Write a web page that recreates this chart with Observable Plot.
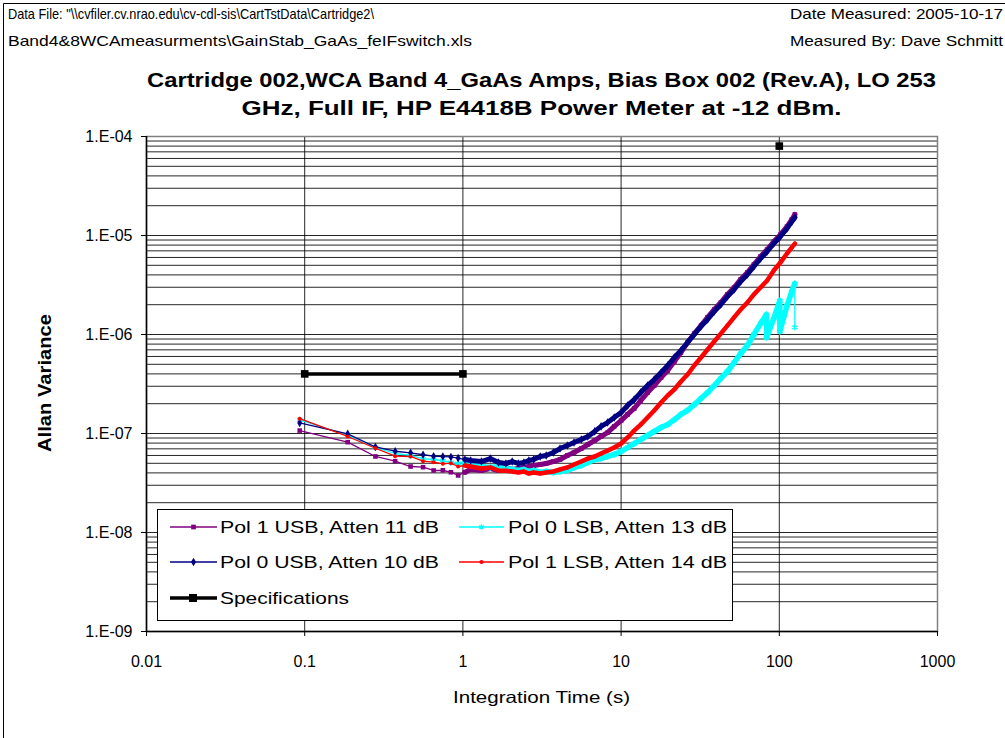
<!DOCTYPE html>
<html><head><meta charset="utf-8">
<script src="https://cdn.jsdelivr.net/npm/d3@7"></script>
<script src="https://cdn.jsdelivr.net/npm/@observablehq/plot@0.6"></script>
<style>
html,body{margin:0;padding:0;background:#fff;}
#wrap{position:relative;width:1005px;height:738px;overflow:hidden;font-family:"Liberation Sans",Arial,sans-serif;color:#000;background:#fff;}
#wrap svg{position:absolute;left:0;top:0;}
</style></head><body><div id="wrap"></div>
<script>
// ---------- data ----------
const times = [0.093,0.187,0.28,0.373,0.467,0.56,0.653,0.747,0.84,0.933,1.03,1.12,1.31,1.49,1.68,1.87,2.05,2.24,2.43,2.61,2.80,3.08,3.36,3.73,4.11,4.57,5.04,5.6,6.16,6.81,7.47,8.21,9.05,10.0,11.0,12.1,13.3,14.7,16.2,17.9,19.7,21.7,23.9,26.3,29.0,32.0,35.2,38.8,42.7,47.0,51.8,57.0,62.8,69.1,76.1,83.8,92.3,101.6,111.9,120,125.4];
const pol1USB = [1.07e-7,8.17e-8,5.86e-8,5.25e-8,4.64e-8,4.57e-8,4.23e-8,4.25e-8,4.06e-8,3.77e-8,4.06e-8,4.33e-8,4.23e-8,4.43e-8,4.23e-8,4.54e-8,4.33e-8,4.43e-8,4.54e-8,4.64e-8,4.75e-8,4.86e-8,4.98e-8,5.21e-8,5.46e-8,6.0e-8,6.43e-8,7.05e-8,7.74e-8,8.49e-8,9.33e-8,1.02e-7,1.18e-7,1.35e-7,1.56e-7,1.79e-7,2.15e-7,2.59e-7,3.05e-7,3.68e-7,4.33e-7,5.33e-7,6.58e-7,8.30e-7,1.02e-6,1.23e-6,1.49e-6,1.79e-6,2.10e-6,2.54e-6,2.98e-6,3.60e-6,4.23e-6,5.09e-6,6.14e-6,7.22e-6,8.69e-6,1.02e-5,1.23e-5,1.45e-5,1.63e-5];
const pol0USB = [1.28e-7,9.93e-8,7.31e-8,6.62e-8,6.38e-8,6.10e-8,5.90e-8,5.85e-8,5.80e-8,5.64e-8,5.46e-8,5.33e-8,5.21e-8,5.58e-8,5.09e-8,4.98e-8,5.21e-8,4.98e-8,5.09e-8,5.33e-8,5.46e-8,5.86e-8,6.0e-8,6.43e-8,7.05e-8,7.57e-8,8.11e-8,8.69e-8,9.33e-8,1.05e-7,1.18e-7,1.29e-7,1.45e-7,1.63e-7,1.92e-7,2.20e-7,2.59e-7,3.05e-7,3.51e-7,4.13e-7,4.86e-7,5.86e-7,6.89e-7,8.30e-7,1.0e-6,1.21e-6,1.42e-6,1.71e-6,2.01e-6,2.42e-6,2.85e-6,3.43e-6,4.04e-6,4.86e-6,5.86e-6,6.89e-6,8.30e-6,9.77e-6,1.18e-5,1.38e-5,1.52e-5];
const pol1LSB = [1.41e-7,9.33e-8,7.10e-8,5.90e-8,5.86e-8,5.25e-8,5.13e-8,4.94e-8,5.01e-8,4.64e-8,4.75e-8,4.64e-8,4.43e-8,4.54e-8,4.23e-8,4.20e-8,4.13e-8,4.04e-8,4.13e-8,3.94e-8,4.04e-8,3.94e-8,4.04e-8,4.13e-8,4.33e-8,4.54e-8,4.86e-8,5.21e-8,5.58e-8,5.86e-8,6.28e-8,6.72e-8,7.22e-8,7.93e-8,9.12e-8,1.07e-7,1.23e-7,1.45e-7,1.71e-7,2.06e-7,2.42e-7,2.78e-7,3.35e-7,3.94e-7,4.86e-7,5.86e-7,7.05e-7,8.49e-7,1.02e-6,1.23e-6,1.49e-6,1.79e-6,2.10e-6,2.54e-6,2.98e-6,3.51e-6,4.43e-6,5.33e-6,6.58e-6,7.57e-6,8.30e-6];
const cyanTimes = [0.093,0.187,0.28,0.373,0.467,0.56,0.653,0.747,0.84,0.933,1.03,1.12,1.31,1.49,1.68,1.87,2.05,2.24,2.43,2.61,2.80,3.08,3.36,3.73,4.11,4.57,5.04,5.6,6.16,6.81,7.47,8.21,9.05,10.0,11.0,12.1,13.3,14.7,16.2,17.9,19.7,21.7,23.9,26.3,29.0,32.0,35.2,38.8,42.7,47.0,51.8,57.0,62.8,69.1,76.1,83.0,83.1,92.3,100.7,100.8,111.9,120,125.3,125.4];
const pol0LSB = [1.37e-7,9.62e-8,7.22e-8,6.28e-8,6.0e-8,5.55e-8,5.46e-8,5.33e-8,5.09e-8,4.98e-8,5.09e-8,4.86e-8,4.64e-8,4.54e-8,4.64e-8,4.43e-8,4.33e-8,4.23e-8,4.33e-8,4.13e-8,4.23e-8,4.04e-8,4.13e-8,4.04e-8,4.13e-8,4.23e-8,4.54e-8,4.75e-8,5.09e-8,5.46e-8,5.58e-8,5.86e-8,6.14e-8,6.58e-8,7.22e-8,7.93e-8,8.69e-8,9.55e-8,1.05e-7,1.15e-7,1.23e-7,1.38e-7,1.56e-7,1.71e-7,1.96e-7,2.26e-7,2.59e-7,3.05e-7,3.60e-7,4.23e-7,5.21e-7,6.43e-7,7.74e-7,1.0e-6,1.29e-6,1.59e-6,9.33e-7,1.45e-6,2.20e-6,1.07e-6,1.96e-6,2.72e-6,3.27e-6,1.18e-6];
const specTimes = [0.1, 1];
const specValues = [4e-7, 4e-7];
const specPointTimes = [100];
const specPointValues = [8e-5];
const xTicks = [0.01, 0.1, 1, 10, 100, 1000];
const xTickLabels = ["0.01", "0.1", "1", "10", "100", "1000"];
const yTicks = [1e-9, 1e-8, 1e-7, 1e-6, 1e-5, 1e-4];
const yTickLabels = ["1.E-09", "1.E-08", "1.E-07", "1.E-06", "1.E-05", "1.E-04"];
const seriesNames = ["Pol 1 USB, Atten 11 dB", "Pol 0 LSB, Atten 13 dB", "Pol 0 USB, Atten 10 dB", "Pol 1 LSB, Atten 14 dB"];
const specName = "Specifications";
const headerLeft = ["Data File: \"\\\\cvfiler.cv.nrao.edu\\cv-cdl-sis\\CartTstData\\Cartridge2\\", "Band4&8WCAmeasurments\\GainStab_GaAs_feIFswitch.xls"];
const headerRight = ["Date Measured: 2005-10-17", "Measured By: Dave Schmitt"];
const titleLines = ["Cartridge 002,WCA Band 4_GaAs Amps, Bias Box 002 (Rev.A), LO 253", "GHz, Full IF, HP E4418B Power Meter at -12 dBm."];
const xLabel = "Integration Time (s)";
const yLabel = "Allan Variance";

// ---------- styles ----------
const styles = [
  {name: seriesNames[0], t: times, v: pol1USB, color: "#800080", symbol: "square", r: 2.6, band: 5},
  {name: seriesNames[1], t: cyanTimes, v: pol0LSB, color: "#00FFFF", symbol: "asterisk", r: 3, band: 5.5},
  {name: seriesNames[2], t: times, v: pol0USB, color: "#000080", symbol: "diamond", r: 2.6, band: 5},
  {name: seriesNames[3], t: times, v: pol1LSB, color: "#FF0000", symbol: "circle", r: 2, band: 4.5}
];

const yGrid = [];
yTicks.forEach(d => { for (let k = 1; k <= 9; k++) { const g = d * k; if (g <= 1e-4 * 1.0001) yGrid.push(g); } });

const marks = [
  Plot.ruleY(yGrid, {stroke: "#000", strokeWidth: 1, strokeOpacity: 0.85}),
  Plot.ruleX(xTicks, {stroke: "#000", strokeWidth: 1, strokeOpacity: 0.85}),
  Plot.frame({stroke: "#808080", strokeWidth: 1.5}),
  Plot.ruleX([xTicks[0]], {stroke: "#000", strokeWidth: 1.5}),
  Plot.ruleY([yTicks[0]], {stroke: "#000", strokeWidth: 1.5}),
  Plot.axisY(yTicks, {anchor: "left", tickSize: 5, tickPadding: 9, fontSize: 16, tickFormat: d => yTickLabels[yTicks.indexOf(d)], label: null}),
  Plot.axisX(xTicks, {anchor: "bottom", tickSize: 5, tickPadding: 19, fontSize: 16, tickFormat: d => xTickLabels[xTicks.indexOf(d)], label: null})
];

styles.forEach(s => {
  const rows = s.t.map((t, i) => ({t, v: s.v[i]}));
  const last = s.t[s.t.length - 1];
  const bandRows = rows.filter(d => d.t >= 1 && (s.symbol !== "asterisk" || d.t < last));
  marks.push(Plot.line(rows, {x: "t", y: "v", stroke: s.color, strokeWidth: 1.3}));
  marks.push(Plot.line(bandRows, {x: "t", y: "v", stroke: s.color, strokeWidth: s.band, strokeLinejoin: "round"}));
  if (s.symbol === "asterisk")
    marks.push(Plot.dot(rows, {x: "t", y: "v", symbol: "asterisk", stroke: s.color, strokeWidth: 1.3, r: s.r}));
  else
    marks.push(Plot.dot(rows, {x: "t", y: "v", symbol: s.symbol, fill: s.color, stroke: "none", r: s.r}));
});

const specRows = specTimes.map((t, i) => ({t, v: specValues[i]}));
const specPt = specPointTimes.map((t, i) => ({t, v: specPointValues[i]}));
marks.push(Plot.line(specRows, {x: "t", y: "v", stroke: "#000", strokeWidth: 3.5}));
marks.push(Plot.dot(specRows.concat(specPt), {x: "t", y: "v", symbol: "square", fill: "#000", r: 4.3}));

const chart = Plot.plot({
  width: 1005, height: 738,
  marginLeft: 146, marginRight: 68, marginTop: 136, marginBottom: 107,
  style: {fontFamily: "'Liberation Sans', Arial, sans-serif", color: "#000", background: "transparent", overflow: "visible"},
  x: {type: "log", domain: [0.01, 1000]},
  y: {type: "log", domain: [1e-9, 1e-4]},
  marks
});
const wrap = document.getElementById("wrap");
wrap.appendChild(chart);

// ---------- overlay: border, header, title, axis labels, legend ----------
const ov = d3.select(wrap).append("svg").attr("width", 1005).attr("height", 738)
  .style("font-family", "'Liberation Sans', Arial, sans-serif").style("pointer-events", "none");

ov.append("path").attr("d", "M3.5,745V3.5H1010").attr("fill", "none").attr("stroke", "#000").attr("stroke-width", 1);

function txt(str, x, y, size, opts = {}) {
  const t = ov.append("text").attr("x", x).attr("y", y).attr("font-size", size)
    .attr("dominant-baseline", "central").attr("fill", "#000")
    .attr("text-anchor", opts.anchor || "start").text(str);
  if (opts.bold) t.attr("font-weight", "bold");
  if (opts.width) t.attr("textLength", opts.width).attr("lengthAdjust", "spacingAndGlyphs");
  if (opts.rotate) t.attr("transform", `rotate(${opts.rotate},${x},${y})`);
  return t;
}
txt(headerLeft[0], 8, 14, 14.5, {width: 366});
txt(headerLeft[1], 8, 41, 14.5, {width: 464});
txt(headerRight[0], 1003, 14, 14.5, {anchor: "end", width: 213});
txt(headerRight[1], 1003, 41, 14.5, {anchor: "end", width: 213});
txt(titleLines[0], 541.5, 79, 20.5, {anchor: "middle", bold: true, width: 789});
txt(titleLines[1], 541.5, 107, 20.5, {anchor: "middle", bold: true, width: 600});
txt(xLabel, 541.5, 697, 16.5, {anchor: "middle", width: 177});
txt(yLabel, 45, 383, 17.5, {anchor: "middle", bold: true, width: 138, rotate: -90});

// legend
const lg = ov.append("g");
lg.append("rect").attr("x", 157.5).attr("y", 509.5).attr("width", 575).attr("height", 111)
  .attr("fill", "#fff").attr("stroke", "#000").attr("stroke-width", 1);
const legendPos = [[170, 217, 220, 527], [459, 504, 508, 527], [170, 217, 220, 562], [459, 504, 508, 562]];
const symMap = {square: d3.symbolSquare, diamond: d3.symbolDiamond, asterisk: d3.symbolAsterisk, circle: d3.symbolCircle};
styles.forEach((s, i) => {
  const [x1, x2, tx, y] = legendPos[i];
  lg.append("line").attr("x1", x1).attr("x2", x2).attr("y1", y).attr("y2", y).attr("stroke", s.color).attr("stroke-width", 1.5);
  const p = lg.append("path").attr("d", d3.symbol(symMap[s.symbol], s.symbol === "circle" ? 14 : 22)()).attr("transform", `translate(${(x1 + x2) / 2},${y})`);
  if (s.symbol === "asterisk") p.attr("fill", "none").attr("stroke", s.color).attr("stroke-width", 1.3);
  else p.attr("fill", s.color);
  txt(s.name, tx, y, 17, {width: 219});
});
lg.append("line").attr("x1", 170).attr("x2", 217).attr("y1", 598).attr("y2", 598).attr("stroke", "#000").attr("stroke-width", 3.5);
lg.append("rect").attr("x", 189).attr("y", 594).attr("width", 8).attr("height", 8).attr("fill", "#000");
txt(specName, 220, 598, 17, {width: 129});
</script></body></html>
